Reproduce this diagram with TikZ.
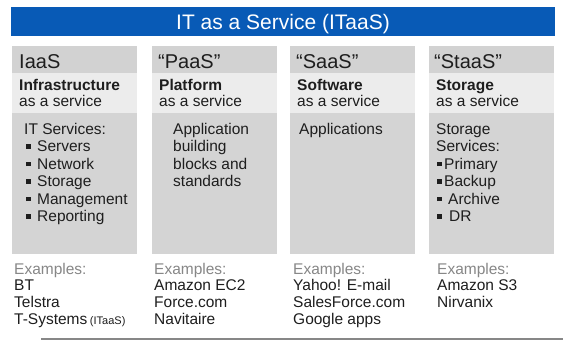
\documentclass[tikz,border=0pt]{standalone}
\usepackage{fontspec}
\setmainfont{Liberation Sans}
\definecolor{banner}{RGB}{8,90,182}
\definecolor{hdr}{RGB}{210,210,210}
\definecolor{subrow}{RGB}{236,236,236}
\definecolor{bodyg}{RGB}{212,212,212}
\definecolor{exg}{RGB}{135,135,135}
\definecolor{ink}{RGB}{30,30,30}
\definecolor{rulegray}{RGB}{135,135,135}
\newcommand\bulsq{\rule[3pt]{4.5pt}{4.5pt}}
\begin{document}
\begin{tikzpicture}[x=1pt,y=-1pt,
  txt/.style={anchor=base west,inner sep=0pt,text=ink,font=\fontsize{15.5}{17.5}\selectfont},
  btxt/.style={txt,font=\fontsize{15.5}{17.5}\selectfont\bfseries},
  htxt/.style={txt,font=\fontsize{20}{22}\selectfont},
  extxt/.style={txt,text=exg},
  title/.style={anchor=base,inner sep=0pt,text=white,font=\fontsize{21}{23}\selectfont}]
\useasboundingbox (0,0) rectangle (563,340);
\fill[white] (0,0) rectangle (563,340);
% banner
\fill[banner] (11,7) rectangle (555,36);
\node[title] (ttl) at (283,29) {IT as a Service (ITaaS)};
% columns
\foreach \L in {12,152,290,429}{
  \fill[hdr] (\L,46) rectangle ++(125,27);
  \fill[subrow] (\L,73) rectangle ++(125,40);
  \fill[bodyg] (\L,113) rectangle ++(125,141);
}
% headers
\node[htxt] (h1) at (19,68) {IaaS};
\node[htxt] (h2) at (158,68) {“PaaS”};
\node[htxt] (h3) at (296,68) {“SaaS”};
\node[htxt] (h4) at (434,68) {“StaaS”};
% subtitles
\node[btxt] (s1a) at (19,90) {Infrastructure};
\node[txt]  (s1b) at (19,106) {as a service};
\node[btxt] (s2a) at (159,90) {Platform};
\node[txt]  (s2b) at (159,106) {as a service};
\node[btxt] (s3a) at (297,90) {Software};
\node[txt]  (s3b) at (297,106) {as a service};
\node[btxt] (s4a) at (436,90) {Storage};
\node[txt]  (s4b) at (436,106) {as a service};
% body column 1
\node[txt] (b1a) at (24,134) {IT Services:};
\node[txt] (b1b) at (26,151.5) {\bulsq\hspace{6.5pt}Servers};
\node[txt] (b1c) at (26,169) {\bulsq\hspace{6.5pt}Network};
\node[txt] (b1d) at (26,186.5) {\bulsq\hspace{6.5pt}Storage};
\node[txt] (b1e) at (26,204) {\bulsq\hspace{6.5pt}Management};
\node[txt] (b1f) at (26,221.5) {\bulsq\hspace{6.5pt}Reporting};
% body column 2
\node[txt] (b2a) at (173,134) {Application};
\node[txt] (b2b) at (173,151.5) {building};
\node[txt] (b2c) at (173,169) {blocks and};
\node[txt] (b2d) at (173,186.5) {standards};
% body column 3
\node[txt] (b3a) at (299,134) {Applications};
% body column 4
\node[txt] (b4a) at (436,134) {Storage};
\node[txt] (b4b) at (436,151.5) {Services:};
\node[txt] (b4c) at (437,169) {\bulsq\hspace{2.5pt}Primary};
\node[txt] (b4d) at (437,186.5) {\bulsq\hspace{2.5pt}Backup};
\node[txt] (b4e) at (437,204) {\bulsq\hspace{6.5pt}Archive};
\node[txt] (b4f) at (437,221.5) {\bulsq\hspace{7.5pt}DR};
% examples
\node[extxt] (e1) at (14,274) {Examples:};
\node[txt] (e1a) at (14,290.5) {BT};
\node[txt] (e1b) at (14,307.5) {Telstra};
\node[txt] (e1c) at (14,324) {T-Systems\,{\fontsize{11}{12}\selectfont(ITaaS)}};
\node[extxt] (e2) at (154,274) {Examples:};
\node[txt] (e2a) at (154,290.5) {Amazon EC2};
\node[txt] (e2b) at (154,307.5) {Force.com};
\node[txt] (e2c) at (154,324) {Navitaire};
\node[extxt] (e3) at (293,274) {Examples:};
\node[txt] (e3a) at (293,290.5) {Yahoo! E-mail};
\node[txt] (e3b) at (293,307.5) {SalesForce.com};
\node[txt] (e3c) at (293,324) {Google apps};
\node[extxt] (e4) at (437,274) {Examples:};
\node[txt] (e4a) at (437,290.5) {Amazon S3};
\node[txt] (e4b) at (437,307.5) {Nirvanix};
% bottom rule
\fill[rulegray] (41,337.5) rectangle (563,340);
\end{tikzpicture}
\end{document}
